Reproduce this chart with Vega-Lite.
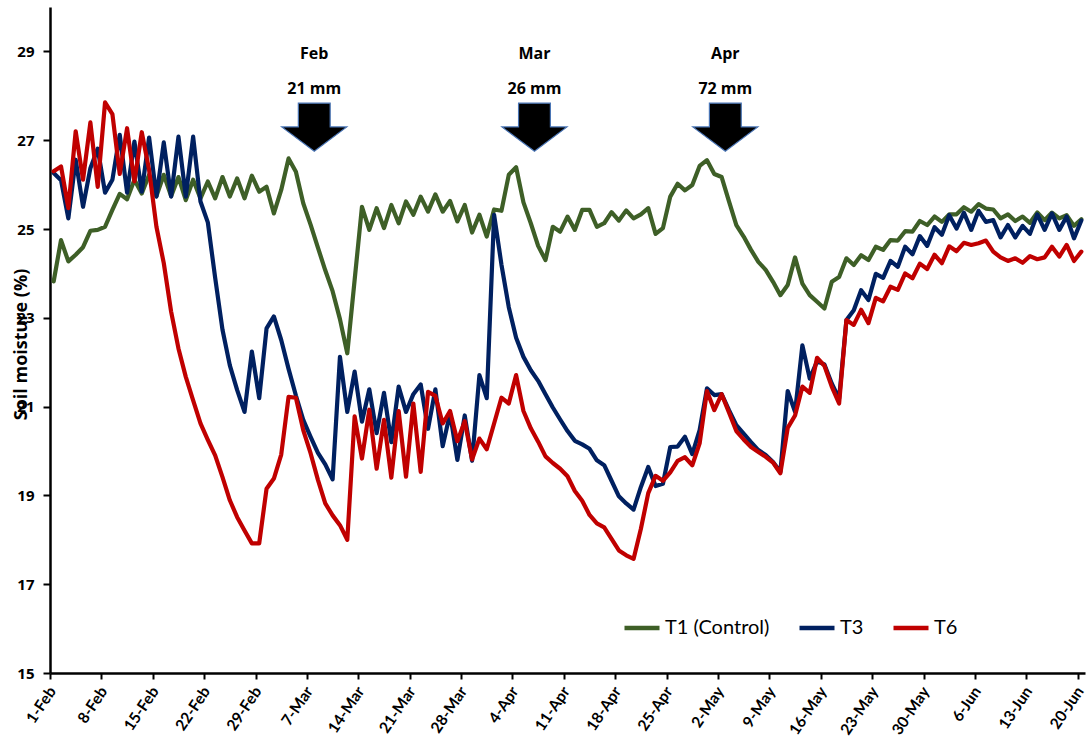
{
  "$schema": "https://vega.github.io/schema/vega-lite/v6.json",
  "autosize": {"type": "none"},
  "width": 1035,
  "height": 666,
  "padding": {"left": 50, "top": 7, "right": 1, "bottom": 65},
  "background": "white",
  "config": {"view": {"stroke": null}, "axis": {"grid": false}},
  "layer": [
    {
      "data": {
        "format": {"parse": {"date": "date:'%Y-%m-%d'"}},
        "values": [
          {"date": "2020-02-01", "T1 (Control)": 23.82, "T3": 26.26, "T6": 26.30},
          {"date": "2020-02-02", "T1 (Control)": 24.75, "T3": 26.10, "T6": 26.41},
          {"date": "2020-02-03", "T1 (Control)": 24.27, "T3": 25.24, "T6": 25.47},
          {"date": "2020-02-04", "T1 (Control)": 24.42, "T3": 26.56, "T6": 27.20},
          {"date": "2020-02-05", "T1 (Control)": 24.59, "T3": 25.50, "T6": 26.11},
          {"date": "2020-02-06", "T1 (Control)": 24.96, "T3": 26.37, "T6": 27.40},
          {"date": "2020-02-07", "T1 (Control)": 24.98, "T3": 26.81, "T6": 25.95},
          {"date": "2020-02-08", "T1 (Control)": 25.05, "T3": 25.82, "T6": 27.85},
          {"date": "2020-02-09", "T1 (Control)": 25.43, "T3": 26.11, "T6": 27.59},
          {"date": "2020-02-10", "T1 (Control)": 25.79, "T3": 27.12, "T6": 26.24},
          {"date": "2020-02-11", "T1 (Control)": 25.67, "T3": 25.82, "T6": 27.27},
          {"date": "2020-02-12", "T1 (Control)": 26.11, "T3": 26.97, "T6": 26.07},
          {"date": "2020-02-13", "T1 (Control)": 25.80, "T3": 25.84, "T6": 27.18},
          {"date": "2020-02-14", "T1 (Control)": 26.22, "T3": 27.06, "T6": 26.33},
          {"date": "2020-02-15", "T1 (Control)": 25.74, "T3": 25.73, "T6": 25.05},
          {"date": "2020-02-16", "T1 (Control)": 26.22, "T3": 26.95, "T6": 24.23},
          {"date": "2020-02-17", "T1 (Control)": 25.74, "T3": 25.73, "T6": 23.14},
          {"date": "2020-02-18", "T1 (Control)": 26.17, "T3": 27.08, "T6": 22.31},
          {"date": "2020-02-19", "T1 (Control)": 25.65, "T3": 25.73, "T6": 21.67},
          {"date": "2020-02-20", "T1 (Control)": 26.11, "T3": 27.08, "T6": 21.14},
          {"date": "2020-02-21", "T1 (Control)": 25.69, "T3": 25.62, "T6": 20.62},
          {"date": "2020-02-22", "T1 (Control)": 26.07, "T3": 25.15, "T6": 20.25},
          {"date": "2020-02-23", "T1 (Control)": 25.69, "T3": 23.90, "T6": 19.90},
          {"date": "2020-02-24", "T1 (Control)": 26.17, "T3": 22.73, "T6": 19.41},
          {"date": "2020-02-25", "T1 (Control)": 25.73, "T3": 21.93, "T6": 18.89},
          {"date": "2020-02-26", "T1 (Control)": 26.14, "T3": 21.37, "T6": 18.51},
          {"date": "2020-02-27", "T1 (Control)": 25.69, "T3": 20.88, "T6": 18.21},
          {"date": "2020-02-28", "T1 (Control)": 26.20, "T3": 22.24, "T6": 17.92},
          {"date": "2020-02-29", "T1 (Control)": 25.84, "T3": 21.19, "T6": 17.92},
          {"date": "2020-03-01", "T1 (Control)": 25.95, "T3": 22.76, "T6": 19.15},
          {"date": "2020-03-02", "T1 (Control)": 25.35, "T3": 23.03, "T6": 19.38},
          {"date": "2020-03-03", "T1 (Control)": 25.88, "T3": 22.50, "T6": 19.92},
          {"date": "2020-03-04", "T1 (Control)": 26.59, "T3": 21.85, "T6": 21.22},
          {"date": "2020-03-05", "T1 (Control)": 26.29, "T3": 21.25, "T6": 21.20},
          {"date": "2020-03-06", "T1 (Control)": 25.58, "T3": 20.70, "T6": 20.47},
          {"date": "2020-03-07", "T1 (Control)": 25.10, "T3": 20.32, "T6": 19.95},
          {"date": "2020-03-08", "T1 (Control)": 24.58, "T3": 19.96, "T6": 19.35},
          {"date": "2020-03-09", "T1 (Control)": 24.07, "T3": 19.70, "T6": 18.82},
          {"date": "2020-03-10", "T1 (Control)": 23.60, "T3": 19.36, "T6": 18.55},
          {"date": "2020-03-11", "T1 (Control)": 22.97, "T3": 22.12, "T6": 18.33},
          {"date": "2020-03-12", "T1 (Control)": 22.20, "T3": 20.88, "T6": 18.00},
          {"date": "2020-03-13", "T1 (Control)": 23.85, "T3": 21.79, "T6": 20.78},
          {"date": "2020-03-14", "T1 (Control)": 25.50, "T3": 20.66, "T6": 19.83},
          {"date": "2020-03-15", "T1 (Control)": 24.98, "T3": 21.39, "T6": 20.93},
          {"date": "2020-03-16", "T1 (Control)": 25.47, "T3": 20.40, "T6": 19.60},
          {"date": "2020-03-17", "T1 (Control)": 25.02, "T3": 21.31, "T6": 20.70},
          {"date": "2020-03-18", "T1 (Control)": 25.54, "T3": 20.20, "T6": 19.40},
          {"date": "2020-03-19", "T1 (Control)": 25.13, "T3": 21.45, "T6": 20.90},
          {"date": "2020-03-20", "T1 (Control)": 25.62, "T3": 20.88, "T6": 19.42},
          {"date": "2020-03-21", "T1 (Control)": 25.32, "T3": 21.28, "T6": 21.07},
          {"date": "2020-03-22", "T1 (Control)": 25.73, "T3": 21.50, "T6": 19.53},
          {"date": "2020-03-23", "T1 (Control)": 25.39, "T3": 20.50, "T6": 21.33},
          {"date": "2020-03-24", "T1 (Control)": 25.78, "T3": 21.39, "T6": 21.24},
          {"date": "2020-03-25", "T1 (Control)": 25.39, "T3": 20.11, "T6": 20.62},
          {"date": "2020-03-26", "T1 (Control)": 25.63, "T3": 20.85, "T6": 20.90},
          {"date": "2020-03-27", "T1 (Control)": 25.17, "T3": 19.80, "T6": 20.22},
          {"date": "2020-03-28", "T1 (Control)": 25.54, "T3": 20.80, "T6": 20.67},
          {"date": "2020-03-29", "T1 (Control)": 24.92, "T3": 19.78, "T6": 19.81},
          {"date": "2020-03-30", "T1 (Control)": 25.32, "T3": 21.71, "T6": 20.28},
          {"date": "2020-03-31", "T1 (Control)": 24.83, "T3": 21.19, "T6": 20.04},
          {"date": "2020-04-01", "T1 (Control)": 25.44, "T3": 25.32, "T6": 20.62},
          {"date": "2020-04-02", "T1 (Control)": 25.41, "T3": 24.20, "T6": 21.20},
          {"date": "2020-04-03", "T1 (Control)": 26.22, "T3": 23.24, "T6": 21.07},
          {"date": "2020-04-04", "T1 (Control)": 26.39, "T3": 22.55, "T6": 21.71},
          {"date": "2020-04-05", "T1 (Control)": 25.60, "T3": 22.12, "T6": 20.90},
          {"date": "2020-04-06", "T1 (Control)": 25.13, "T3": 21.82, "T6": 20.51},
          {"date": "2020-04-07", "T1 (Control)": 24.62, "T3": 21.58, "T6": 20.21},
          {"date": "2020-04-08", "T1 (Control)": 24.30, "T3": 21.28, "T6": 19.88},
          {"date": "2020-04-09", "T1 (Control)": 25.05, "T3": 20.98, "T6": 19.73},
          {"date": "2020-04-10", "T1 (Control)": 24.94, "T3": 20.71, "T6": 19.60},
          {"date": "2020-04-11", "T1 (Control)": 25.28, "T3": 20.45, "T6": 19.43},
          {"date": "2020-04-12", "T1 (Control)": 24.98, "T3": 20.23, "T6": 19.10},
          {"date": "2020-04-13", "T1 (Control)": 25.43, "T3": 20.15, "T6": 18.88},
          {"date": "2020-04-14", "T1 (Control)": 25.43, "T3": 20.05, "T6": 18.56},
          {"date": "2020-04-15", "T1 (Control)": 25.05, "T3": 19.79, "T6": 18.37},
          {"date": "2020-04-16", "T1 (Control)": 25.13, "T3": 19.68, "T6": 18.28},
          {"date": "2020-04-17", "T1 (Control)": 25.38, "T3": 19.33, "T6": 18.02},
          {"date": "2020-04-18", "T1 (Control)": 25.19, "T3": 18.98, "T6": 17.76},
          {"date": "2020-04-19", "T1 (Control)": 25.42, "T3": 18.82, "T6": 17.65},
          {"date": "2020-04-20", "T1 (Control)": 25.24, "T3": 18.68, "T6": 17.57},
          {"date": "2020-04-21", "T1 (Control)": 25.33, "T3": 19.19, "T6": 18.25},
          {"date": "2020-04-22", "T1 (Control)": 25.47, "T3": 19.64, "T6": 19.05},
          {"date": "2020-04-23", "T1 (Control)": 24.89, "T3": 19.21, "T6": 19.44},
          {"date": "2020-04-24", "T1 (Control)": 25.02, "T3": 19.26, "T6": 19.33},
          {"date": "2020-04-25", "T1 (Control)": 25.73, "T3": 20.09, "T6": 19.52},
          {"date": "2020-04-26", "T1 (Control)": 26.02, "T3": 20.10, "T6": 19.78},
          {"date": "2020-04-27", "T1 (Control)": 25.87, "T3": 20.32, "T6": 19.86},
          {"date": "2020-04-28", "T1 (Control)": 25.99, "T3": 19.93, "T6": 19.68},
          {"date": "2020-04-29", "T1 (Control)": 26.42, "T3": 20.47, "T6": 20.17},
          {"date": "2020-04-30", "T1 (Control)": 26.55, "T3": 21.41, "T6": 21.35},
          {"date": "2020-05-01", "T1 (Control)": 26.24, "T3": 21.26, "T6": 20.92},
          {"date": "2020-05-02", "T1 (Control)": 26.17, "T3": 21.28, "T6": 21.28},
          {"date": "2020-05-03", "T1 (Control)": 25.62, "T3": 20.92, "T6": 20.87},
          {"date": "2020-05-04", "T1 (Control)": 25.09, "T3": 20.58, "T6": 20.45},
          {"date": "2020-05-05", "T1 (Control)": 24.83, "T3": 20.39, "T6": 20.26},
          {"date": "2020-05-06", "T1 (Control)": 24.53, "T3": 20.20, "T6": 20.09},
          {"date": "2020-05-07", "T1 (Control)": 24.26, "T3": 20.02, "T6": 19.98},
          {"date": "2020-05-08", "T1 (Control)": 24.08, "T3": 19.91, "T6": 19.87},
          {"date": "2020-05-09", "T1 (Control)": 23.81, "T3": 19.75, "T6": 19.74},
          {"date": "2020-05-10", "T1 (Control)": 23.51, "T3": 19.53, "T6": 19.50},
          {"date": "2020-05-11", "T1 (Control)": 23.74, "T3": 21.35, "T6": 20.52},
          {"date": "2020-05-12", "T1 (Control)": 24.36, "T3": 20.88, "T6": 20.80},
          {"date": "2020-05-13", "T1 (Control)": 23.77, "T3": 22.38, "T6": 21.45},
          {"date": "2020-05-14", "T1 (Control)": 23.51, "T3": 21.63, "T6": 21.31},
          {"date": "2020-05-15", "T1 (Control)": 23.36, "T3": 22.02, "T6": 22.10},
          {"date": "2020-05-16", "T1 (Control)": 23.21, "T3": 21.95, "T6": 21.92},
          {"date": "2020-05-17", "T1 (Control)": 23.81, "T3": 21.52, "T6": 21.45},
          {"date": "2020-05-18", "T1 (Control)": 23.92, "T3": 21.18, "T6": 21.07},
          {"date": "2020-05-19", "T1 (Control)": 24.34, "T3": 22.95, "T6": 22.95},
          {"date": "2020-05-20", "T1 (Control)": 24.19, "T3": 23.17, "T6": 22.84},
          {"date": "2020-05-21", "T1 (Control)": 24.41, "T3": 23.62, "T6": 23.18},
          {"date": "2020-05-22", "T1 (Control)": 24.30, "T3": 23.40, "T6": 22.88},
          {"date": "2020-05-23", "T1 (Control)": 24.60, "T3": 23.99, "T6": 23.45},
          {"date": "2020-05-24", "T1 (Control)": 24.53, "T3": 23.90, "T6": 23.37},
          {"date": "2020-05-25", "T1 (Control)": 24.75, "T3": 24.28, "T6": 23.70},
          {"date": "2020-05-26", "T1 (Control)": 24.74, "T3": 24.15, "T6": 23.63},
          {"date": "2020-05-27", "T1 (Control)": 24.95, "T3": 24.60, "T6": 24.00},
          {"date": "2020-05-28", "T1 (Control)": 24.94, "T3": 24.43, "T6": 23.89},
          {"date": "2020-05-29", "T1 (Control)": 25.18, "T3": 24.84, "T6": 24.22},
          {"date": "2020-05-30", "T1 (Control)": 25.09, "T3": 24.62, "T6": 24.10},
          {"date": "2020-05-31", "T1 (Control)": 25.28, "T3": 25.04, "T6": 24.42},
          {"date": "2020-06-01", "T1 (Control)": 25.16, "T3": 24.87, "T6": 24.23},
          {"date": "2020-06-02", "T1 (Control)": 25.33, "T3": 25.31, "T6": 24.61},
          {"date": "2020-06-03", "T1 (Control)": 25.33, "T3": 25.01, "T6": 24.50},
          {"date": "2020-06-04", "T1 (Control)": 25.49, "T3": 25.37, "T6": 24.69},
          {"date": "2020-06-05", "T1 (Control)": 25.39, "T3": 24.98, "T6": 24.64},
          {"date": "2020-06-06", "T1 (Control)": 25.56, "T3": 25.41, "T6": 24.68},
          {"date": "2020-06-07", "T1 (Control)": 25.46, "T3": 25.16, "T6": 24.74},
          {"date": "2020-06-08", "T1 (Control)": 25.44, "T3": 25.20, "T6": 24.49},
          {"date": "2020-06-09", "T1 (Control)": 25.24, "T3": 24.81, "T6": 24.36},
          {"date": "2020-06-10", "T1 (Control)": 25.33, "T3": 25.09, "T6": 24.28},
          {"date": "2020-06-11", "T1 (Control)": 25.18, "T3": 24.81, "T6": 24.34},
          {"date": "2020-06-12", "T1 (Control)": 25.28, "T3": 25.07, "T6": 24.24},
          {"date": "2020-06-13", "T1 (Control)": 25.14, "T3": 24.89, "T6": 24.39},
          {"date": "2020-06-14", "T1 (Control)": 25.37, "T3": 25.33, "T6": 24.32},
          {"date": "2020-06-15", "T1 (Control)": 25.20, "T3": 24.98, "T6": 24.36},
          {"date": "2020-06-16", "T1 (Control)": 25.37, "T3": 25.35, "T6": 24.60},
          {"date": "2020-06-17", "T1 (Control)": 25.24, "T3": 24.98, "T6": 24.38},
          {"date": "2020-06-18", "T1 (Control)": 25.31, "T3": 25.28, "T6": 24.64},
          {"date": "2020-06-19", "T1 (Control)": 25.07, "T3": 24.79, "T6": 24.28},
          {"date": "2020-06-20", "T1 (Control)": 25.22, "T3": 25.19, "T6": 24.49}
        ]
      },
      "transform": [{"fold": ["T1 (Control)", "T3", "T6"], "as": ["treatment", "moisture"]}],
      "mark": {"type": "line", "strokeWidth": 4.2, "strokeJoin": "round", "strokeCap": "round"},
      "encoding": {
        "x": {
          "field": "date",
          "type": "temporal",
          "timeUnit": "yearmonthdate",
          "bandPosition": 0.5,
          "title": null,
          "scale": {"domain": [{"year": 2020, "month": "feb", "date": 1}, {"year": 2020, "month": "jun", "date": 21}]},
          "axis": {
            "values": [
              {"year": 2020, "month": "feb", "date": 1},
              {"year": 2020, "month": "feb", "date": 8},
              {"year": 2020, "month": "feb", "date": 15},
              {"year": 2020, "month": "feb", "date": 22},
              {"year": 2020, "month": "feb", "date": 29},
              {"year": 2020, "month": "mar", "date": 7},
              {"year": 2020, "month": "mar", "date": 14},
              {"year": 2020, "month": "mar", "date": 21},
              {"year": 2020, "month": "mar", "date": 28},
              {"year": 2020, "month": "apr", "date": 4},
              {"year": 2020, "month": "apr", "date": 11},
              {"year": 2020, "month": "apr", "date": 18},
              {"year": 2020, "month": "apr", "date": 25},
              {"year": 2020, "month": "may", "date": 2},
              {"year": 2020, "month": "may", "date": 9},
              {"year": 2020, "month": "may", "date": 16},
              {"year": 2020, "month": "may", "date": 23},
              {"year": 2020, "month": "may", "date": 30},
              {"year": 2020, "month": "jun", "date": 6},
              {"year": 2020, "month": "jun", "date": 13},
              {"year": 2020, "month": "jun", "date": 20}
            ],
            "format": "%-d-%b",
            "formatType": "time",
            "labelAngle": -56,
            "labelAlign": "right",
            "labelBaseline": "middle",
            "labelFont": "Lato",
            "labelFontWeight": "bold",
            "labelFontSize": 15.5,
            "labelColor": "black",
            "labelPadding": 9,
            "labelOffset": 2,
            "labelOverlap": false,
            "labelFlush": false,
            "labelBound": false,
            "tickSize": 6,
            "tickWidth": 2,
            "tickColor": "black",
            "domainColor": "black",
            "domainWidth": 2.5
          }
        },
        "y": {
          "field": "moisture",
          "type": "quantitative",
          "title": "Soil moisture (%)",
          "scale": {"domain": [15, 30], "nice": false, "zero": false},
          "axis": {
            "values": [15, 17, 19, 21, 23, 25, 27, 29],
            "titleFont": "Open Sans",
            "titleFontSize": 18,
            "titleFontWeight": "bold",
            "titleColor": "black",
            "titleAngle": -90,
            "titleAlign": "center",
            "titleBaseline": "middle",
            "titleX": -29,
            "titleY": 337,
            "labelFont": "Open Sans",
            "labelFontSize": 15,
            "labelFontWeight": "bold",
            "labelColor": "black",
            "labelPadding": 9,
            "tickSize": 7,
            "tickWidth": 2,
            "tickColor": "black",
            "domainColor": "black",
            "domainWidth": 2.5
          }
        },
        "color": {
          "field": "treatment",
          "type": "nominal",
          "scale": {"domain": ["T1 (Control)", "T3", "T6"], "range": ["#3E5F27", "#002060", "#C00000"]},
          "legend": {
            "orient": "none",
            "legendX": 572,
            "legendY": 601,
            "direction": "horizontal",
            "title": null,
            "padding": 0,
            "symbolType": "stroke",
            "symbolSize": 1225,
            "symbolStrokeWidth": 4.5,
            "labelFont": "Lato",
            "labelFontSize": 20,
            "labelColor": "black",
            "labelOffset": 3,
            "labelLimit": 300,
            "columnPadding": 20
          }
        }
      }
    },
    {
      "data": {
        "format": {"parse": {"date": "date:'%Y-%m-%d'"}},
        "values": [
          {"date": "2020-03-08", "month": "Feb", "rain": "21 mm"},
          {"date": "2020-04-07", "month": "Mar", "rain": "26 mm"},
          {"date": "2020-05-03", "month": "Apr", "rain": "72 mm"}
        ]
      },
      "layer": [
        {
          "mark": {
            "type": "point",
            "shape": "M-0.49,-0.73L0.49,-0.73L0.49,0L1,0L0,0.75L-1,0L-0.49,0Z",
            "size": 4225,
            "filled": true,
            "fill": "black",
            "stroke": "#4A75B5",
            "strokeWidth": 1.2,
            "opacity": 1
          },
          "encoding": {
            "x": {"field": "date", "type": "temporal", "title": null},
            "y": {"datum": 27.3, "title": "Soil moisture (%)"}
          }
        },
        {
          "mark": {"type": "text", "font": "Open Sans", "fontWeight": "bold", "fontSize": 16, "baseline": "middle", "color": "black"},
          "encoding": {
            "x": {"field": "date", "type": "temporal", "title": null},
            "y": {"datum": 28.95, "title": "Soil moisture (%)"},
            "text": {"field": "month"}
          }
        },
        {
          "mark": {"type": "text", "font": "Open Sans", "fontWeight": "bold", "fontSize": 16, "baseline": "middle", "color": "black"},
          "encoding": {
            "x": {"field": "date", "type": "temporal", "title": null},
            "y": {"datum": 28.16, "title": "Soil moisture (%)"},
            "text": {"field": "rain"}
          }
        }
      ]
    }
  ]
}
